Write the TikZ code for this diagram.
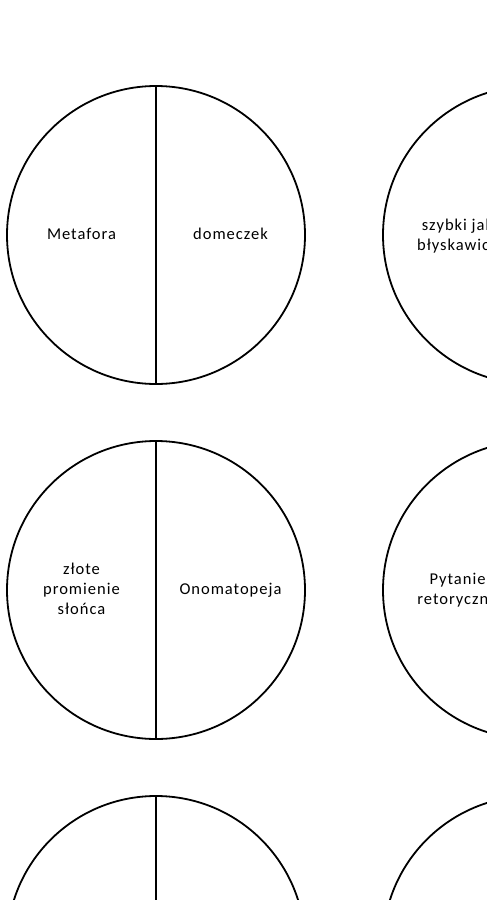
\documentclass[tikz,border=0pt]{standalone}
\usepackage{fontspec}
\setmainfont[LetterSpace=6]{Carlito}
\usetikzlibrary{positioning}
\tikzset{
  kolo/.style={draw, line width=1.8pt, circle, minimum size=298pt, inner sep=0pt},
  napis/.style={align=center, font=\fontsize{16.5}{20}\selectfont, inner sep=1pt}
}
\begin{document}
\begin{tikzpicture}[x=1pt, y=-1pt]
  \useasboundingbox (0,0) rectangle (487,900);

  % circles
  \node[kolo] (k1) at (156,235) {};
  \node[kolo] (k2) at (532,235) {};
  \node[kolo] (k3) at (156,590) {};
  \node[kolo] (k4) at (532,590) {};
  \node[kolo] (k5) at (156,945) {};
  \node[kolo] (k6) at (532,945) {};

  % dividing lines
  \draw[line width=1.8pt] (k1.north) -- (k1.south);
  \draw[line width=1.8pt] (k3.north) -- (k3.south);
  \draw[line width=1.8pt] (k5.north) -- (k5.south);

  % labels
  \node[napis] (metafora) at ([xshift=-74.5pt, yshift=1pt]k1.center) {Metafora};
  \node[napis] (domeczek) at ([xshift=74.5pt, yshift=1pt]k1.center) {domeczek};
  \node[napis] (szybki) at ([xshift=-74.5pt, yshift=-1pt]k2.center) {szybki jak\\błyskawica};
  \node[napis] (zlote) at ([xshift=-74.5pt, yshift=1pt]k3.center) {złote\\promienie\\słońca};
  \node[napis] (onomatopeja) at ([xshift=74.5pt, yshift=0pt]k3.center) {Onomatopeja};
  \node[napis] (pytanie) at ([xshift=-74.5pt, yshift=0pt]k4.center) {Pytanie\\retoryczne};
\end{tikzpicture}
\end{document}
